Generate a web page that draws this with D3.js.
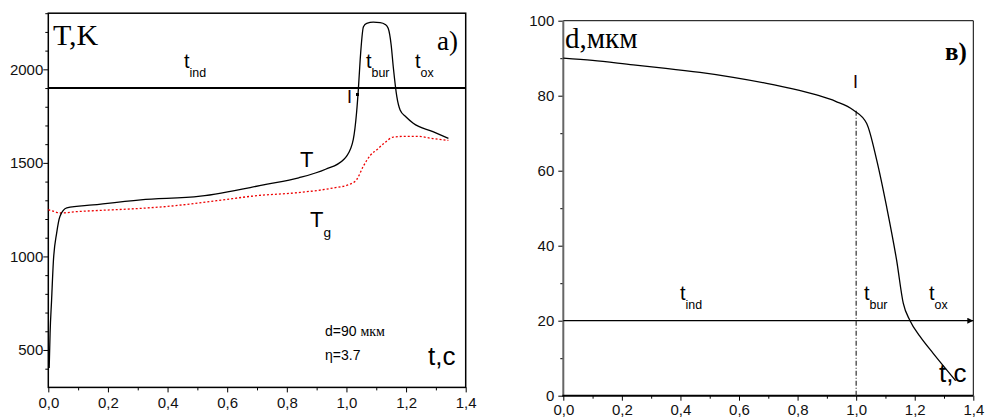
<!DOCTYPE html>
<html>
  <head>
    <meta charset="utf-8">
    <title>T(t) and d(t)</title>
    <script src="https://d3js.org/d3.v7.min.js"></script>
    <style>
      body { margin: 0; background: #fff; }
      .serif { font-family: "Liberation Serif", "Times New Roman", serif; }
      .sans { font-family: "Liberation Sans", Arial, sans-serif; }
    </style>
  </head>
  <body>
    <svg width="986" height="419"></svg>
    <script>
      // panel a): particle temperature T and gas temperature Tg, K
      var tT = [0.003, 0.006, 0.011, 0.017, 0.028, 0.039, 0.062, 0.15, 0.31, 0.51, 0.73, 0.84, 0.93, 0.99, 1.0, 1.023, 1.034, 1.04, 1.046, 1.057, 1.068, 1.09, 1.113, 1.13, 1.14, 1.15, 1.157, 1.169, 1.18, 1.2, 1.224, 1.29, 1.342];
      var T = [404, 590, 766, 973, 1125, 1214, 1259, 1275, 1302, 1322, 1385, 1420, 1466, 1517, 1535, 1626, 1769, 1894, 2050, 2228, 2246, 2252, 2250, 2240, 2219, 2130, 2014, 1854, 1783, 1745, 1712, 1667, 1631];
      var tg = [0, 0.02, 0.039, 0.1, 0.173, 0.3, 0.397, 0.565, 0.7, 0.844, 0.956, 1.01, 1.034, 1.057, 1.08, 1.102, 1.13, 1.157, 1.2, 1.236, 1.29, 1.342];
      var Tg = [1250, 1240, 1232, 1240, 1246, 1256, 1267, 1298, 1325, 1342, 1366, 1385, 1410, 1483, 1540, 1570, 1610, 1638, 1642, 1642, 1630, 1620];
      var Tline = 1900;

      // panel в): particle diameter, мкм
      var td = [0, 0.1, 0.239, 0.35, 0.467, 0.58, 0.694, 0.78, 0.865, 0.93, 0.99, 1.036, 1.07, 1.104, 1.138, 1.161, 1.184, 1.218, 1.263, 1.309, 1.34];
      var d = [90, 89.4, 88.2, 87.3, 86.2, 84.9, 83.3, 81.9, 80.2, 78.5, 76.2, 72.6, 62.9, 50.4, 36.2, 24.6, 20, 15.8, 11.3, 6.9, 4];
      var dline = 20;
      var tIgn = 1.0;

      var xTicks = [0, 0.2, 0.4, 0.6, 0.8, 1.0, 1.2, 1.4];
      var xMinor = [0.1, 0.3, 0.5, 0.7, 0.9, 1.1, 1.3];
      var yTicksA = [500, 1000, 1500, 2000];
      var yTicksB = [0, 20, 40, 60, 80, 100];

      var svg = d3.select("svg");
      var fmt = function (v) { return d3.format(".1f")(v).replace(".", ","); };

      // scales
      var xA = d3.scaleLinear().domain([0, 1.4]).range([48.3, 465.7]);
      var yA = d3.scaleLinear().domain([300, 2300]).range([387.4, 13.2]);
      var xB = d3.scaleLinear().domain([0, 1.4]).range([563.3, 973.3]);
      var yB = d3.scaleLinear().domain([0, 100]).range([395.7, 20.7]);

      function styleAxis(s) {
        s.select(".domain").remove();
        s.selectAll(".tick text")
          .style("font-family", '"Liberation Sans", Arial, sans-serif')
          .style("font-size", "15px")
          .style("fill", "#111");
      }
      function minorAxis(axis, vals, g) {
        g.call(axis.tickValues(vals).tickSize(3).tickFormat(""))
          .call(function (s) { s.select(".domain").remove(); });
      }

      // ---------- panel a) ----------
      var gA = svg.append("g");
      gA.append("rect")
        .attr("x", xA(0)).attr("y", yA(2300))
        .attr("width", xA(1.4) - xA(0)).attr("height", yA(300) - yA(2300))
        .attr("fill", "none").attr("stroke", "#000").attr("stroke-width", 1.5);

      gA.append("g").attr("transform", "translate(0," + yA(300) + ")")
        .call(d3.axisBottom(xA).tickValues(xTicks).tickSize(5).tickPadding(5).tickFormat(fmt))
        .call(styleAxis);
      minorAxis(d3.axisBottom(xA), xMinor,
        gA.append("g").attr("transform", "translate(0," + yA(300) + ")"));
      gA.append("g").attr("transform", "translate(" + xA(0) + ",0)")
        .call(d3.axisLeft(yA).tickValues(yTicksA).tickSize(5).tickPadding(0).tickFormat(d3.format("d")))
        .call(styleAxis);
      minorAxis(d3.axisLeft(yA), d3.range(400, 2301, 100).filter(function (v) { return v % 500; }),
        gA.append("g").attr("transform", "translate(" + xA(0) + ",0)"));

      // horizontal reference line
      gA.append("line")
        .attr("x1", xA(0)).attr("x2", xA(1.4))
        .attr("y1", yA(Tline)).attr("y2", yA(Tline))
        .attr("stroke", "#000").attr("stroke-width", 2);

      var lineA = d3.line()
        .x(function (p) { return xA(p[0]); })
        .y(function (p) { return yA(p[1]); })
        .curve(d3.curveMonotoneX);

      gA.append("path")
        .attr("d", lineA(d3.zip(tg, Tg)))
        .attr("fill", "none").attr("stroke", "#e00").attr("stroke-width", 1.3)
        .attr("stroke-dasharray", "2,2");
      gA.append("path")
        .attr("d", lineA(d3.zip(tT, T)))
        .attr("fill", "none").attr("stroke", "#000").attr("stroke-width", 1.3);

      // labels
      gA.append("text").attr("class", "serif").attr("x", 53).attr("y", 45)
        .style("font-size", "30px").text("T,K");
      gA.append("text").attr("class", "serif").attr("x", 437).attr("y", 50)
        .style("font-size", "27px").text("a)");

      function sub(g, x, y, main, s, size) {
        var t = g.append("text").attr("class", "sans").attr("x", x).attr("y", y)
          .style("font-size", size + "px");
        t.append("tspan").text(main);
        t.append("tspan").attr("dy", size * 0.45).style("font-size", (size * 0.62) + "px").text(s);
      }
      sub(gA, 184, 68, "t", "ind", 20);
      sub(gA, 366, 68, "t", "bur", 20);
      sub(gA, 415, 68, "t", "ox", 20);

      gA.append("text").attr("class", "sans").attr("x", 347).attr("y", 103)
        .style("font-size", "18px").attr("fill", "#200").text("I");
      gA.append("rect").attr("x", 356).attr("y", 93).attr("width", 3).attr("height", 3).attr("fill", "#000");

      gA.append("text").attr("class", "sans").attr("x", 300).attr("y", 167)
        .style("font-size", "22px").text("T");
      sub(gA, 310, 227, "T", "g", 22);

      var dLab = gA.append("text").attr("class", "sans").attr("x", 325).attr("y", 336)
        .style("font-size", "14px");
      dLab.append("tspan").text("d=90 ");
      dLab.append("tspan").attr("class", "serif").text("мкм");
      gA.append("text").attr("class", "sans").attr("x", 325).attr("y", 360)
        .style("font-size", "14px").text("η=3.7");
      gA.append("text").attr("class", "sans").attr("x", 428).attr("y", 365)
        .style("font-size", "26px").text("t,c");

      // ---------- panel в) ----------
      var gB = svg.append("g");
      gB.append("line").attr("x1", xB(0)).attr("x2", xB(1.4))
        .attr("y1", yB(100)).attr("y2", yB(100)).attr("stroke", "#000").attr("stroke-width", 1);
      gB.append("line").attr("x1", xB(1.4)).attr("x2", xB(1.4))
        .attr("y1", yB(100)).attr("y2", yB(0)).attr("stroke", "#000").attr("stroke-width", 1);

      gB.append("g").attr("transform", "translate(0," + yB(0) + ")")
        .call(d3.axisBottom(xB).tickValues(xTicks).tickSize(5).tickPadding(4).tickFormat(fmt))
        .call(styleAxis);
      minorAxis(d3.axisBottom(xB), xMinor,
        gB.append("g").attr("transform", "translate(0," + yB(0) + ")"));
      gB.append("g").attr("transform", "translate(" + xB(0) + ",0)")
        .call(d3.axisLeft(yB).tickValues(yTicksB).tickSize(5).tickPadding(4))
        .call(styleAxis);
      minorAxis(d3.axisLeft(yB), [10, 30, 50, 70, 90],
        gB.append("g").attr("transform", "translate(" + xB(0) + ",0)"));

      gB.append("line").attr("x1", xB(0)).attr("x2", xB(0))
        .attr("y1", yB(100)).attr("y2", yB(0)).attr("stroke", "#666").attr("stroke-width", 2);
      gB.append("line").attr("x1", xB(0) - 1).attr("x2", xB(1.4))
        .attr("y1", yB(0)).attr("y2", yB(0)).attr("stroke", "#000").attr("stroke-width", 2);

      // horizontal arrow line
      svg.append("defs").append("marker")
        .attr("id", "arr").attr("viewBox", "0 0 10 10").attr("refX", 10).attr("refY", 5)
        .attr("markerWidth", 7).attr("markerHeight", 6).attr("orient", "auto")
        .attr("markerUnits", "userSpaceOnUse")
        .append("path").attr("d", "M0,0L10,5L0,10z").attr("fill", "#000");
      gB.append("line")
        .attr("x1", xB(0)).attr("x2", xB(1.4))
        .attr("y1", yB(dline)).attr("y2", yB(dline))
        .attr("stroke", "#000").attr("stroke-width", 1.2)
        .attr("marker-end", "url(#arr)");

      // ignition dash-dot line
      gB.append("line")
        .attr("x1", xB(tIgn)).attr("x2", xB(tIgn))
        .attr("y1", yB(76)).attr("y2", yB(0))
        .attr("stroke", "#333").attr("stroke-width", 1.2)
        .attr("stroke-dasharray", "5,2,1,2");

      var lineB = d3.line()
        .x(function (p) { return xB(p[0]); })
        .y(function (p) { return yB(p[1]); })
        .curve(d3.curveMonotoneX);
      gB.append("path")
        .attr("d", lineB(d3.zip(td, d)))
        .attr("fill", "none").attr("stroke", "#000").attr("stroke-width", 1.3);

      gB.append("text").attr("class", "serif").attr("x", 565).attr("y", 48)
        .style("font-size", "29px").text("d,мкм");
      gB.append("text").attr("class", "serif").attr("x", 945).attr("y", 60)
        .style("font-size", "25px").style("font-weight", "bold").text("в)");
      gB.append("text").attr("class", "sans").attr("x", 853).attr("y", 88)
        .style("font-size", "18px").attr("fill", "#200").text("I");
      sub(gB, 680, 300, "t", "ind", 20);
      sub(gB, 864, 300, "t", "bur", 20);
      sub(gB, 929, 300, "t", "ox", 20);
      gB.append("text").attr("class", "sans").attr("x", 939).attr("y", 382)
        .style("font-size", "26px").text("t,c");
    </script>
  </body>
</html>
